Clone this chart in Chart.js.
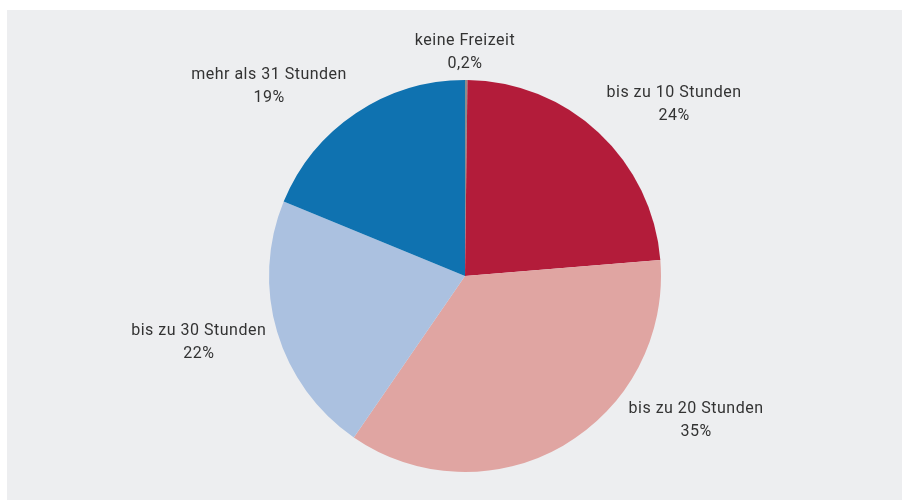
<!DOCTYPE html>
<html>
<head>
<meta charset="utf-8">
<script src="https://cdn.jsdelivr.net/npm/chart.js@4"></script>
<style>
  html, body { margin: 0; padding: 0; background: #fff; }
  #panel { position: absolute; left: 7px; top: 10px; width: 895px; height: 490px; background: #edeef0; }
</style>
</head>
<body>
<div id="panel"><canvas id="myChart" width="895" height="490"></canvas></div>
<script>
  // categories, shares and printed labels
  var categories = ['keine Freizeit', 'bis zu 10 Stunden', 'bis zu 20 Stunden', 'bis zu 30 Stunden', 'mehr als 31 Stunden'];
  var shares = [0.2, 23.5, 35.9, 21.6, 18.8];
  var shareLabels = ['0,2%', '24%', '35%', '22%', '19%'];
  var colors = ['#8c8c8c', '#b31c3a', '#e0a5a2', '#abc1e0', '#0f72b0'];

  // label placement: angle (deg, clockwise from top) and distance as factor of radius
  var labelAngles = [0, 50.6, 122, 256, 314];
  var labelDist = [1.14, 1.38, 1.39, 1.40, 1.39];

  var outsideLabels = {
    id: 'outsideLabels',
    afterDraw: function (chart) {
      var ctx = chart.ctx;
      var arc = chart.getDatasetMeta(0).data[0];
      var cx = arc.x, cy = arc.y, r = arc.outerRadius;
      ctx.save();
      ctx.font = '16px Roboto, "DejaVu Sans", sans-serif';
      ctx.letterSpacing = '0.5px';
      ctx.fillStyle = '#333333';
      ctx.textAlign = 'center';
      ctx.textBaseline = 'middle';
      categories.forEach(function (cat, i) {
        var a = labelAngles[i] * Math.PI / 180;
        var x = cx + Math.sin(a) * r * labelDist[i];
        var y = cy - Math.cos(a) * r * labelDist[i];
        ctx.fillText(cat, x, y - 11.5);
        ctx.fillText(shareLabels[i], x, y + 11.5);
      });
      ctx.restore();
    }
  };

  new Chart(document.getElementById('myChart'), {
    type: 'pie',
    data: {
      labels: categories,
      datasets: [{
        data: shares,
        backgroundColor: colors,
        borderWidth: 0
      }]
    },
    options: {
      responsive: false,
      animation: false,
      layout: { padding: { left: 21, right: 0, top: 70, bottom: 28 } },
      plugins: {
        legend: { display: false },
        tooltip: { enabled: false }
      }
    },
    plugins: [outsideLabels]
  });
</script>
</body>
</html>
